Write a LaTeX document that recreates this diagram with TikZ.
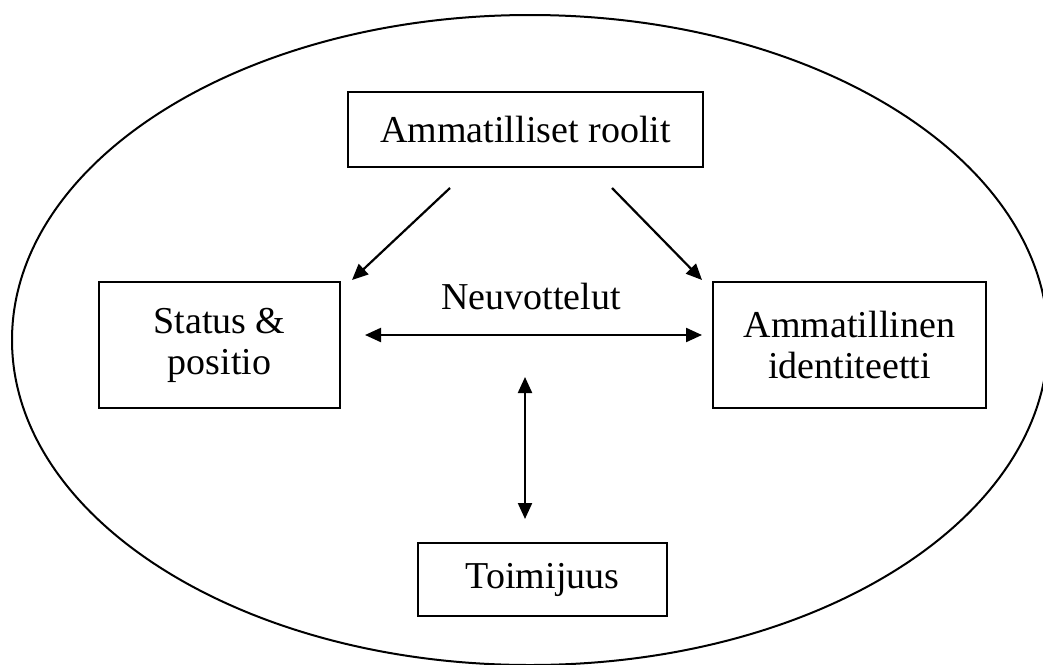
\documentclass[tikz,border=0pt]{standalone}
\usepackage{fontspec}
\setmainfont{Liberation Serif}
\usetikzlibrary{arrows.meta}
\tikzset{
  laatikko/.style={draw,line width=1.2pt,align=center,inner sep=0pt},
  nuoli/.style={line width=1.1pt,-{Triangle[length=8pt,width=7pt]}},
  nuoli2/.style={line width=1.1pt,{Triangle[length=8pt,width=7pt]}-{Triangle[length=8pt,width=7pt]}},
}
\begin{document}
\begin{tikzpicture}[x=0.5pt,y=-0.5pt,font=\fontsize{19}{20.5}\selectfont]
            \useasboundingbox (0,0) rectangle (1043,664);
            \begin{scope}
            \clip (0,0) rectangle (1043,664);
            \draw[line width=1pt] (530,340) ellipse [x radius=518,y radius=325];
            \end{scope}
            \node[laatikko,minimum width=177.5pt,minimum height=37.5pt] (rooli) at (525.5,129.5) {Ammatilliset roolit};
            \node[laatikko,minimum width=120.5pt,minimum height=63pt] (status) at (219.5,345) {Status \&\\positio};
            \node[laatikko,minimum width=136.5pt,minimum height=63pt] (ident) at (849.5,345) {Ammatillinen\\identiteetti};
            \node[laatikko,minimum width=124.5pt,minimum height=36.5pt] (toimi) at (542.5,579.5) {Toimijuus};
            \node (neuv) at (531,296) {Neuvottelut};
            % vapaat paat
            \path (450,188) coordinate (r1) (352,280) coordinate (s1);
            \path (612,188) coordinate (r2) (702,280) coordinate (i1);
            \path (365,335) coordinate (s2) (702,335) coordinate (i2);
            \path (525,377) coordinate (n1) (525,519) coordinate (t1);
            \draw[nuoli] (r1) -- (s1);
            \draw[nuoli] (r2) -- (i1);
            \draw[nuoli2] (s2) -- (i2);
            \draw[nuoli2] (n1) -- (t1);
        \end{tikzpicture}
\end{document}
